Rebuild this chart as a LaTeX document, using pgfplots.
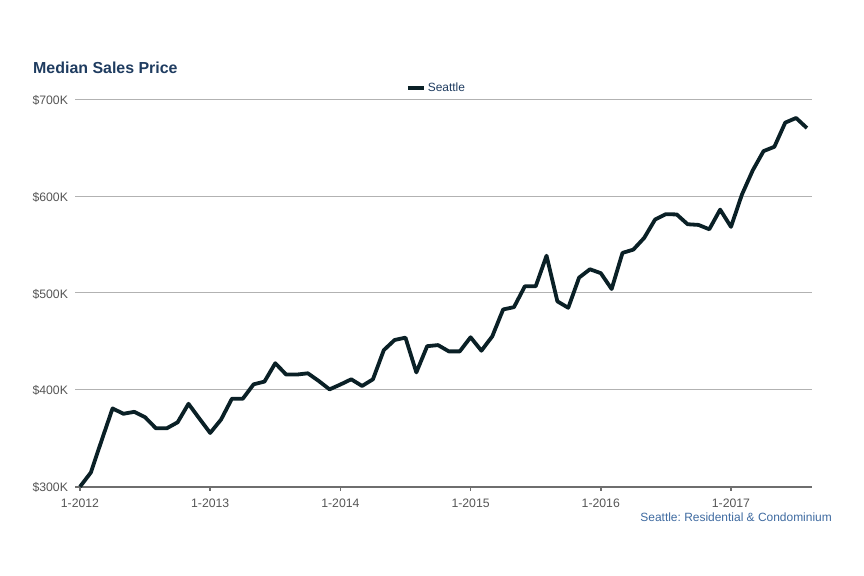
\documentclass[border=0pt]{standalone}
\usepackage{pgfplots}
\pgfplotsset{compat=1.18}
\usepackage{fontspec}
\setmainfont{Liberation Sans}
\frenchspacing
\definecolor{linec}{RGB}{10,32,38}
\definecolor{titlec}{RGB}{31,60,96}
\definecolor{srcc}{RGB}{62,106,160}
\definecolor{tickc}{RGB}{85,85,85}
\definecolor{gridc}{RGB}{178,178,178}
\definecolor{axisc}{RGB}{110,110,110}
\begin{document}
\begin{tikzpicture}
\useasboundingbox (0,0) rectangle (864bp,576bp);
\begin{axis}[
  at={(75bp,89.3bp)}, anchor=south west,
  scale only axis, width=736.7bp, height=387.4bp,
  xmin=-0.46, xmax=67.44, ymin=300, ymax=700,
  axis x line*=bottom, axis y line*=left,
  y axis line style={draw=none},
  x axis line style={draw=axisc, line width=2bp},
  xtick={0,12,24,36,48,60},
  xticklabels={1-2012,1-2013,1-2014,1-2015,1-2016,1-2017},
  xtick align=outside,
  major tick length=4bp,
  xtick style={draw=axisc, line width=1.5bp},
  ytick={300,400,500,600,700},
  yticklabels={\$300K,\$400K,\$500K,\$600K,\$700K},
  ytick style={draw=none},
  ymajorgrids, grid style={draw=gridc, line width=1bp},
  tick label style={font=\fontsize{12.3}{14}\selectfont, text=tickc},
  yticklabel style={xshift=-3.5bp, yshift=-1bp},
  xticklabel style={yshift=-5bp},
  clip=false,
  legend style={at={(0.4907,1.029)}, anchor=center, draw=none, fill=none,
    font=\fontsize{12}{14}\selectfont, text=titlec},
  legend image code/.code={\draw[#1, line width=3.8bp] (0bp,0bp) -- (16bp,0bp);},
]
\addplot[color=linec, line width=3.8bp, line join=round] coordinates {
(0,300) (1,314.6) (2,348) (3,380.8) (4,375.3) (5,377.3) (6,371.7) (7,360.3)
(8,360.3) (9,366.5) (10,385.6) (11,370.4) (12,355.5) (13,369.3) (14,390.8)
(15,390.8) (16,405.7) (17,408.5) (18,427.5) (19,415.8) (20,415.8) (21,417.1)
(22,409.2) (23,400.5) (24,405.5) (25,410.9) (26,404) (27,410.9) (28,441)
(29,451.5) (30,453.9) (31,418) (32,445.1) (33,446.2) (34,439.7) (35,439.7)
(36,454.3) (37,440.4) (38,455.3) (39,483) (40,485.4) (41,506.9) (42,506.9)
(43,538.5) (44,491.4) (45,484.7) (46,515.9) (47,524.5) (48,520.5) (49,504.1)
(50,541.4) (51,544.8) (52,556.9) (53,575.8) (54,581.4) (55,581.1) (56,571)
(57,570.3) (58,565.8) (59,586.1) (60,568.3) (61,601.4) (62,626.5) (63,646.5)
(64,651) (65,675.9) (66,680.7) (67,670.3)
};
\addlegendentry{Seattle}
\end{axis}
\node[anchor=base west, font=\bfseries\fontsize{16}{19}\selectfont, text=titlec, inner sep=0pt] at (33bp,502.7bp) {Median Sales Price};
\node[anchor=base east, font=\fontsize{12}{14}\selectfont, text=srcc, inner sep=0pt] at (832bp,54.5bp) {Seattle: Residential \& Condominium};
\end{tikzpicture}
\end{document}
